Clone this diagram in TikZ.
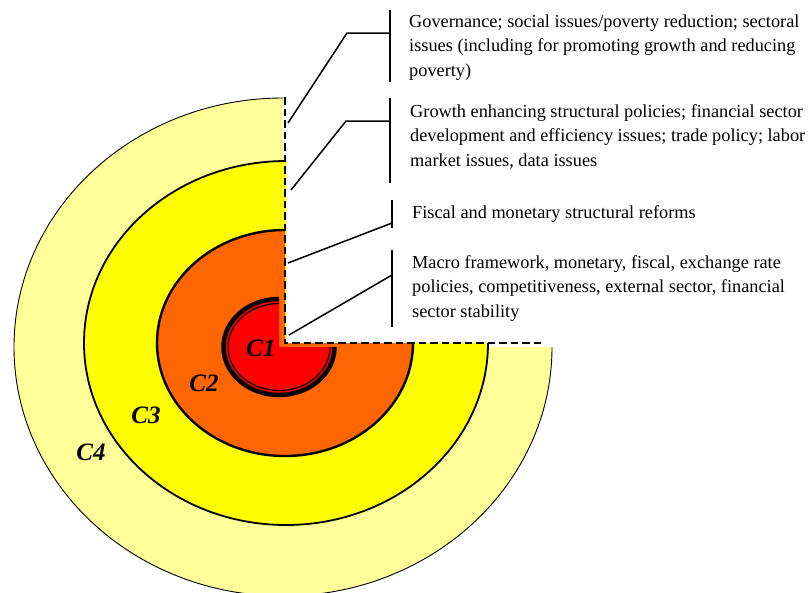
\documentclass[tikz,border=0pt]{standalone}
\usepackage{fontspec}
\setmainfont{Liberation Serif}
\definecolor{cfour}{HTML}{FFFF99}
\definecolor{cthree}{HTML}{FFFF00}
\definecolor{ctwo}{HTML}{FF6600}
\definecolor{cone}{HTML}{FF0000}
\newcommand{\blocktext}[1]{\begin{tabular}[t]{@{}l@{}}#1\end{tabular}}
\begin{document}
\begin{tikzpicture}[x=1pt,y=1pt,
  txt/.style={anchor=base west, font=\fontsize{18.3}{24.5}\selectfont, inner sep=0pt},
  lbl/.style={font=\fontsize{25}{25}\selectfont\bfseries\itshape, inner sep=0pt},
  conn/.style={line width=1.5pt},
  brk/.style={line width=1.8pt},
  cut/.style={line width=1.6pt, dash pattern=on 7.5pt off 4pt}]
\useasboundingbox (0,0) rectangle (810,-592);
\begin{scope}
\clip (0,0) rectangle (810,-592);
% C4
\fill[cfour] (283,-347) -- (283,-98) arc[start angle=90,end angle=360,x radius=269,y radius=249] -- cycle;
\draw[line width=0.9pt] (283,-98) arc[start angle=90,end angle=360,x radius=269,y radius=249];
% C3
\fill[cthree] (286,-343) -- (286,-161) arc[start angle=90,end angle=360,x radius=202,y radius=182] -- cycle;
\draw[line width=1.8pt] (286,-161) arc[start angle=90,end angle=360,x radius=202,y radius=182];
% C2
\fill[ctwo] (285,-343) -- (285,-230) arc[start angle=90,end angle=360,x radius=128,y radius=113] -- cycle;
\draw[line width=2.4pt] (285,-230) arc[start angle=90,end angle=360,x radius=128,y radius=113];
% C1
\fill[cone] (279,-347) -- (279,-299) arc[start angle=90,end angle=360,x radius=55.5,y radius=48] -- cycle;
\draw[line width=4.5pt] (279,-299) arc[start angle=90,end angle=360,x radius=55.5,y radius=48];
\draw[line width=1.2pt] (279,-303.5) arc[start angle=90,end angle=360,x radius=51,y radius=43.5];
\end{scope}
% cut line
\coordinate (ctop) at (285,-97);
\coordinate (ccorner) at (285,-343);
\coordinate (cend) at (543,-343);
\draw[cut] (ctop) -- (ccorner) -- (cend);
% labels
\node[lbl] (l1) at (261,-348) {C1};
\node[lbl] (l2) at (204,-383) {C2};
\node[lbl] (l3) at (146,-415) {C3};
\node[lbl] (l4) at (91,-452) {C4};
% texts
\node[txt] (t1) at (409,-27) {\blocktext{Governance; social issues/poverty reduction; sectoral\\issues (including for promoting growth and reducing\\poverty)}};
\node[txt] (t2) at (410,-117) {\blocktext{Growth enhancing structural policies; financial sector\\development and efficiency issues; trade policy; labor\\market issues, data issues}};
\node[txt] (t3) at (412,-218) {Fiscal and monetary structural reforms};
\node[txt] (t4) at (412,-268) {\blocktext{Macro framework, monetary, fiscal, exchange rate\\policies, competitiveness, external sector, financial\\sector stability}};
% brackets
\coordinate (b1t) at (390,-10); \coordinate (b1b) at (390,-82);
\coordinate (b1m) at (390,-33); \coordinate (k1) at (347,-33); \coordinate (e1) at (288,-123);
\coordinate (b2t) at (390,-98); \coordinate (b2b) at (390,-183);
\coordinate (b2m) at (390,-121); \coordinate (k2) at (346,-121); \coordinate (e2) at (291,-190);
\coordinate (b3t) at (392,-200); \coordinate (b3b) at (392,-228);
\coordinate (b3m) at (392,-223); \coordinate (e3) at (288,-263);
\coordinate (b4t) at (392,-250); \coordinate (b4b) at (392,-327);
\coordinate (b4m) at (392,-275); \coordinate (e4) at (289,-335);
\draw[brk] (b1t) -- (b1b);
\draw[brk] (b2t) -- (b2b);
\draw[brk] (b3t) -- (b3b);
\draw[brk] (b4t) -- (b4b);
\draw[conn] (b1m) -- (k1) -- (e1);
\draw[conn] (b2m) -- (k2) -- (e2);
\draw[conn] (b3m) -- (e3);
\draw[conn] (b4m) -- (e4);
\end{tikzpicture}
\end{document}
